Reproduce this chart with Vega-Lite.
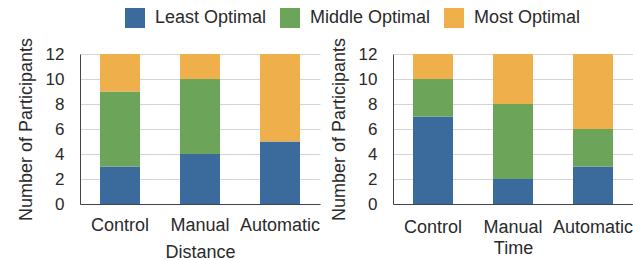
{
  "$schema": "https://vega.github.io/schema/vega-lite/v6.json",
  "padding": {"left": 17, "top": 8, "right": 0, "bottom": 0},
  "background": "white",
  "bounds": "flush",
  "spacing": 73,
  "config": {
    "font": "Liberation Sans",
    "view": {"stroke": null},
    "axis": {
      "labelFont": "Liberation Sans",
      "titleFont": "Liberation Sans",
      "labelFontSize": 17,
      "titleFontSize": 18,
      "labelColor": "#2a2a2a",
      "titleColor": "#2a2a2a",
      "titleFontWeight": "normal",
      "gridColor": "#d4d4d4",
      "domainColor": "#444",
      "ticks": false
    },
    "legend": {
      "labelFont": "Liberation Sans",
      "labelFontSize": 18,
      "labelColor": "#2a2a2a"
    }
  },
  "data": {
    "values": [
      {"panel": "Distance", "cond": "Control", "level": "Least Optimal", "n": 3},
      {"panel": "Distance", "cond": "Control", "level": "Middle Optimal", "n": 6},
      {"panel": "Distance", "cond": "Control", "level": "Most Optimal", "n": 3},
      {"panel": "Distance", "cond": "Manual", "level": "Least Optimal", "n": 4},
      {"panel": "Distance", "cond": "Manual", "level": "Middle Optimal", "n": 6},
      {"panel": "Distance", "cond": "Manual", "level": "Most Optimal", "n": 2},
      {"panel": "Distance", "cond": "Automatic", "level": "Least Optimal", "n": 5},
      {"panel": "Distance", "cond": "Automatic", "level": "Middle Optimal", "n": 0},
      {"panel": "Distance", "cond": "Automatic", "level": "Most Optimal", "n": 7},
      {"panel": "Time", "cond": "Control", "level": "Least Optimal", "n": 7},
      {"panel": "Time", "cond": "Control", "level": "Middle Optimal", "n": 3},
      {"panel": "Time", "cond": "Control", "level": "Most Optimal", "n": 2},
      {"panel": "Time", "cond": "Manual", "level": "Least Optimal", "n": 2},
      {"panel": "Time", "cond": "Manual", "level": "Middle Optimal", "n": 6},
      {"panel": "Time", "cond": "Manual", "level": "Most Optimal", "n": 4},
      {"panel": "Time", "cond": "Automatic", "level": "Least Optimal", "n": 3},
      {"panel": "Time", "cond": "Automatic", "level": "Middle Optimal", "n": 3},
      {"panel": "Time", "cond": "Automatic", "level": "Most Optimal", "n": 6}
    ]
  },
  "hconcat": [
    {
      "width": 240,
      "height": 150,
      "transform": [{"filter": "datum.panel === 'Distance'"}],
      "mark": {"type": "bar", "width": 40},
      "encoding": {
        "x": {"field": "cond", "type": "nominal", "sort": ["Control", "Manual", "Automatic"], "title": "Distance",
              "scale": {"paddingInner": 0.5, "paddingOuter": 0.25},
              "axis": {"labelAngle": 0, "labelPadding": 12, "labelFontSize": 18, "titlePadding": 9}},
        "y": {"field": "n", "type": "quantitative", "aggregate": "sum", "title": "Number of Participants",
              "scale": {"domain": [0, 12]}, "axis": {"values": [0, 2, 4, 6, 8, 10, 12], "labelPadding": 16, "titlePadding": 10}},
        "color": {"field": "level", "type": "nominal", "title": null,
                  "scale": {"domain": ["Least Optimal", "Middle Optimal", "Most Optimal"], "range": ["#3b6b9d", "#6ca559", "#efb04b"]},
                  "legend": {"orient": "none", "legendX": 45, "legendY": -46, "direction": "horizontal", "symbolType": "square", "symbolSize": 400, "symbolStrokeWidth": 0, "symbolOpacity": 1, "columnPadding": 13, "labelOffset": 10}},
        "order": {"field": "level", "sort": "ascending"}
      }
    },
    {
      "width": 240,
      "height": 150,
      "transform": [{"filter": "datum.panel === 'Time'"}],
      "mark": {"type": "bar", "width": 40},
      "encoding": {
        "x": {"field": "cond", "type": "nominal", "sort": ["Control", "Manual", "Automatic"], "title": "Time",
              "scale": {"paddingInner": 0.5, "paddingOuter": 0.25},
              "axis": {"labelAngle": 0, "labelPadding": 14, "labelFontSize": 18, "titlePadding": 3}},
        "y": {"field": "n", "type": "quantitative", "aggregate": "sum", "title": "Number of Participants",
              "scale": {"domain": [0, 12]}, "axis": {"values": [0, 2, 4, 6, 8, 10, 12], "labelPadding": 16, "titlePadding": 10}},
        "color": {"field": "level", "type": "nominal"},
        "order": {"field": "level", "sort": "ascending"}
      }
    }
  ],
  "resolve": {"scale": {"color": "shared"}}
}
